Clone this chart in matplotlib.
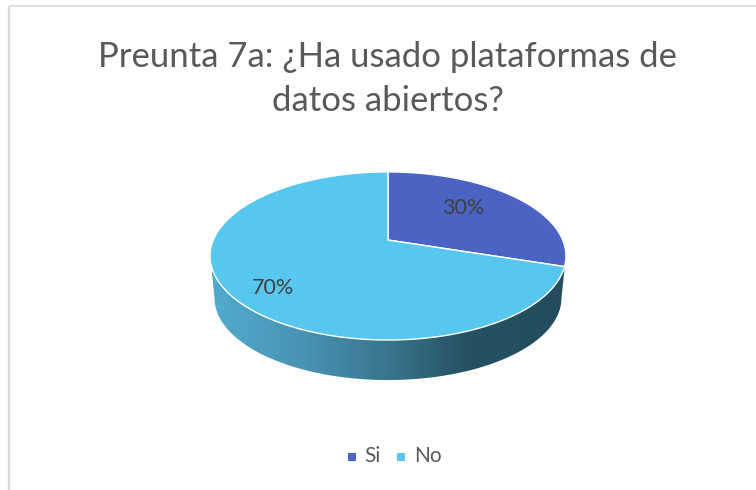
import numpy as np
import matplotlib.pyplot as plt
from matplotlib.colors import LinearSegmentedColormap
from matplotlib.patches import Polygon, Rectangle

categories = ['Si', 'No']
values = [30, 70]
colors = ['#4B64C4', '#57C7EF']
title_lines = ['Preunta 7a: ¿Ha usado plataformas de', 'datos abiertos?']

plt.rcParams['font.family'] = ['Lato', 'DejaVu Sans']

W, H = 756, 490
fig = plt.figure(figsize=(W / 100, H / 100), dpi=100)
ax = fig.add_axes([0, 0, 1, 1])
ax.set_xlim(0, W)
ax.set_ylim(H, 0)
ax.axis('off')


def rim(frac_start, frac_end, cy=240, a=174.7, b=81, k=0.19, n=200):
    # точки на крузі в перспективі, частки рахуються від верху за годинниковою
    th = np.pi / 2 - 2 * np.pi * np.linspace(frac_start, frac_end, n)
    x, y = np.cos(th), np.sin(th)
    return np.column_stack([388 + a * x / (1 + k * y), cy - b * y / (1 + k * y)])


# рамка
ax.plot([9, 9], [H, 6.5], color='#D9D9D9', lw=1.6, solid_capstyle='butt')
ax.plot([9, W], [6.5, 6.5], color='#D9D9D9', lw=1.2, solid_capstyle='butt')

# бокова стінка
front_top = rim(0.28, 0.72)
front_bot = rim(0.28, 0.72, cy=282.5, a=170.3, b=79)
wall = Polygon(np.vstack([front_top, front_bot[::-1]]), closed=True,
               facecolor='none', edgecolor='none', transform=ax.transData)
ax.add_patch(wall)
cmap = LinearSegmentedColormap.from_list('wall', [
    (0.0, '#52ABCF'), (0.25, '#4994B4'), (0.5, '#39758E'),
    (0.72, '#255160'), (1.0, '#234D5C')])
grad = ax.imshow(np.linspace(1, 0, 256).reshape(1, -1), cmap=cmap, aspect='auto',
                 extent=[566, 212, 390, 250], zorder=2)
grad.set_clip_path(wall)
ax.set_xlim(0, W)
ax.set_ylim(H, 0)

# верхні сектори
fracs = np.cumsum([0] + values) / sum(values)
for i, cat in enumerate(categories):
    pts = np.vstack([[[388, 240]], rim(fracs[i], fracs[i + 1])])
    ax.add_patch(Polygon(pts, closed=True, facecolor=colors[i], edgecolor='white',
                         lw=1.0, joinstyle='round', zorder=3))

# підписи
label_pos = [(463, 208), (273, 288)]
for v, (x, y) in zip(values, label_pos):
    ax.text(x, y, f'{v}%', ha='center', va='center', fontsize=15.5,
            color='#404040', zorder=4)

# заголовок
ax.text(388, 57, title_lines[0], ha='center', va='center', fontsize=25, color='#595959')
ax.text(388, 101, title_lines[1], ha='center', va='center', fontsize=25, color='#595959')

# легенда
legend_x = [(348, 364), (397, 414)]
for i, cat in enumerate(categories):
    ax.add_patch(Rectangle((legend_x[i][0], 452.5), 8, 8, facecolor=colors[i], edgecolor='none'))
    ax.text(legend_x[i][1], 456, cat, ha='left', va='center', fontsize=15, color='#595959')

fig.savefig('out.png', dpi=100)
